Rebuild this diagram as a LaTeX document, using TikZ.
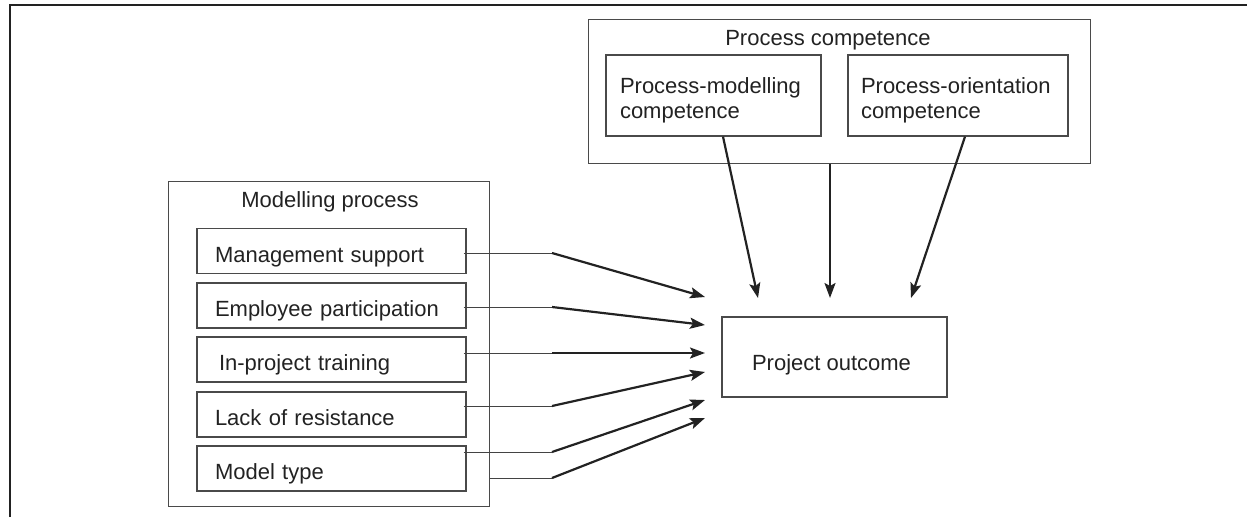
\documentclass[tikz,border=0pt]{standalone}
\usepackage{fontspec}
\setmainfont{Liberation Sans}
\usetikzlibrary{arrows.meta,calc}
\definecolor{ink}{HTML}{222222}
\definecolor{boxline}{HTML}{4A4A4A}
\begin{document}
\begin{tikzpicture}[x=1pt,y=-1pt,
  every node/.style={font=\fontsize{22}{25}\selectfont, text=ink},
  outerbox/.style={draw=boxline, line width=1.3pt, anchor=north west, inner sep=0pt},
  itembox/.style={draw=boxline, line width=1.3pt, minimum height=45pt,
    text width=233pt, inner xsep=18pt, inner ysep=0pt, align=left,
    text height=22pt, text depth=0pt},
  compbox/.style={draw=boxline, line width=1.3pt, minimum height=81pt,
    inner ysep=0pt, align=left, text height=24.6pt, text depth=29.6pt},
  feed/.style={draw=ink!85, line width=1pt},
  effect/.style={draw=ink, line width=2.2pt,
    -{Stealth[length=15pt,width=11pt,inset=3pt]}}]
\useasboundingbox (0,0) rectangle (1247,517);

% page frame
\draw[ink, line width=2.5pt] (10,517) -- (10,5) -- (1247,5);

% modelling process group
\node[outerbox, minimum width=321pt, minimum height=325pt] (mp) at (168,181) {};
\node (mpt) at (330,202) {Modelling process};
\node[itembox] (ms) at (331.5,251)   {Management support};
\node[itembox] (ep) at (331.5,305.5) {Employee participation};
\node[itembox] (it) at (331.5,359.5) {\hspace{4pt}In-project training};
\node[itembox] (lr) at (331.5,414.5) {Lack of resistance};
\node[itembox] (mt) at (331.5,468.5) {Model type};

% process competence group
\node[outerbox, minimum width=502pt, minimum height=144pt] (pc) at (588,19) {};
\node (pct) at (828,40) {Process competence};
\node[compbox, text width=187pt, inner xsep=14pt] (pm) at (713.5,95.5)
  {Process-modelling\\competence};
\node[compbox, text width=194pt, inner xsep=13pt] (po) at (958,95.5)
  {Process-orientation\\competence};

% outcome
\node[draw=boxline, line width=1.3pt, minimum width=225pt, minimum height=80pt,
  inner sep=0pt] (out) at (834.5,357) {};
\node (outt) at (831.5,365) {Project outcome};

% bend points and arrow tips
\foreach \i/\y in {1/253,2/307,3/353,4/406,5/452,6/478}
  \coordinate (b\i) at (552,\y);
\foreach \i/\y in {1/297,2/325,3/353,4/372,5/400,6/418}
  \coordinate (t\i) at (705,\y);

% factors of the modelling process
\draw[feed] ($(ms.east)+(-3,2)$)   -- (b1);
\draw[feed] ($(ep.east)+(-3,1.5)$) -- (b2);
\draw[feed] ($(it.east)+(-3,-6.5)$) -- (b3);
\draw[feed] ($(lr.east)+(-3,-8.5)$) -- (b4);
\draw[feed] ($(mt.east)+(-3,-16.5)$) -- (b5);
\draw[feed] (mp.east |- b6) -- (b6);
\foreach \i in {1,...,6}
  \draw[effect] (b\i) -- (t\i);

% competence effects
\coordinate (u1) at (758,298);
\coordinate (u2) at (830,298);
\coordinate (u3) at (911,298);
\draw[effect] ($(pm.south)+(9.5,0)$) -- (u1);
\draw[effect] (pc.south -| u2) -- (u2);
\draw[effect] ($(po.south)+(7,0)$) -- (u3);
\end{tikzpicture}
\end{document}
